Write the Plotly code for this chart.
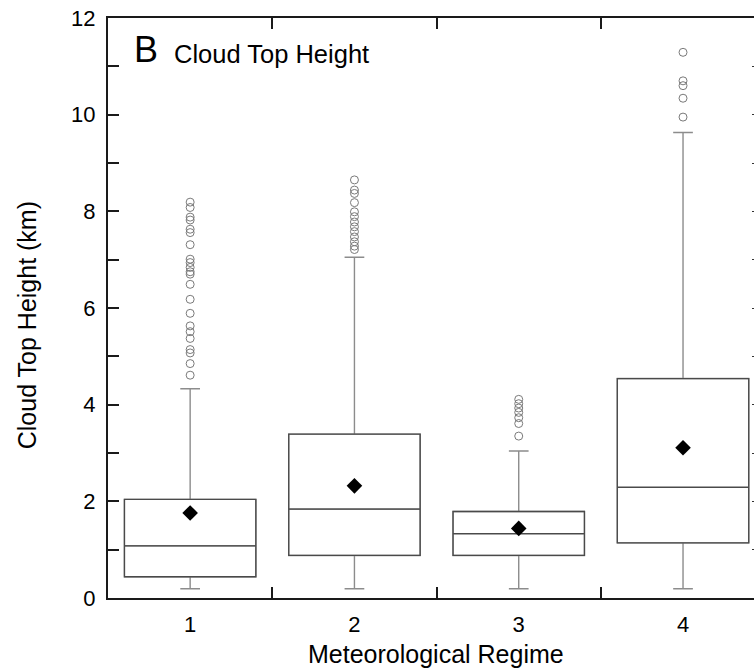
import plotly.graph_objects as go

# Cloud top height (km) statistics per meteorological regime
regimes = [1, 2, 3, 4]
lower_whisker = [0.19, 0.19, 0.19, 0.19]
q1 = [0.44, 0.88, 0.88, 1.14]
median = [1.08, 1.84, 1.33, 2.29]
q3 = [2.04, 3.39, 1.79, 4.54]
upper_whisker = [4.33, 7.05, 3.04, 9.63]
means = [1.76, 2.32, 1.44, 3.11]

outliers_1 = [8.19, 8.08, 7.88, 7.82, 7.63, 7.56, 7.31, 7.01, 6.94, 6.84, 6.75,
              6.70, 6.49, 6.18, 5.89, 5.63, 5.51, 5.37, 5.14, 5.07, 4.85, 4.61]
outliers_2 = [8.65, 8.44, 8.37, 8.18, 7.99, 7.89, 7.78, 7.68, 7.58, 7.47, 7.37,
              7.28, 7.21]
outliers_3 = [4.11, 4.02, 3.93, 3.84, 3.73, 3.61, 3.35]
outliers_4 = [11.29, 10.70, 10.60, 10.34, 9.95]
outliers = [outliers_1, outliers_2, outliers_3, outliers_4]

font_family = "Liberation Sans, Arial, Helvetica, sans-serif"

fig = go.Figure()

# whiskers (lighter grey)
fig.add_trace(go.Box(
    x=regimes, q1=q1, median=median, q3=q3,
    lowerfence=lower_whisker, upperfence=upper_whisker,
    width=0.8, whiskerwidth=0.15, boxpoints=False,
    line=dict(color="#8c8c8c", width=1.4),
    fillcolor="rgba(255,255,255,0)", showlegend=False, hoverinfo="skip",
))
# box outline and median (darker grey)
fig.add_trace(go.Box(
    x=regimes, q1=q1, median=median, q3=q3,
    lowerfence=q1, upperfence=q3,
    width=0.8, whiskerwidth=0, boxpoints=False,
    line=dict(color="#4a4a4a", width=1.3),
    fillcolor="rgba(255,255,255,0)", showlegend=False,
))

# outliers
ox, oy = [], []
for r, vals in zip(regimes, outliers):
    ox += [r] * len(vals)
    oy += vals
fig.add_trace(go.Scatter(
    x=ox, y=oy, mode="markers",
    marker=dict(symbol="circle-open", size=8, color="#7a7a7a", line=dict(width=1)),
    showlegend=False,
))

# means
fig.add_trace(go.Scatter(
    x=regimes, y=means, mode="markers",
    marker=dict(symbol="diamond", size=12, color="black"),
    showlegend=False,
))

# right-hand tick marks
fig.add_trace(go.Scatter(x=[None], y=[None], yaxis="y2", showlegend=False))

axis_color = "#1a1a1a"
fig.update_layout(
    width=754, height=668,
    margin=dict(l=108, r=0, t=18, b=70),
    paper_bgcolor="white", plot_bgcolor="white",
    boxmode="overlay",
    font=dict(family=font_family, color="black"),
    xaxis=dict(
        range=[0.5, 4.432], showgrid=False, zeroline=False,
        showline=True, linecolor=axis_color, linewidth=2, mirror="ticks",
        tickvals=regimes, ticktext=[str(r) for r in regimes],
        ticks="inside", ticklen=0, tickfont=dict(size=22),
        ticklabelstandoff=6,
        minor=dict(tickvals=[1.5, 2.5, 3.5], ticks="inside", ticklen=11,
                   tickwidth=2, tickcolor=axis_color),
    ),
    yaxis=dict(
        range=[0, 12], showgrid=False, zeroline=False,
        showline=True, linecolor=axis_color, linewidth=2, mirror=False,
        tickvals=[0, 2, 4, 6, 8, 10, 12], ticks="inside", ticklen=11,
        tickwidth=2, tickcolor=axis_color, tickfont=dict(size=22),
        ticklabelstandoff=6,
        minor=dict(tickvals=[1, 3, 5, 7, 9, 11], ticks="inside", ticklen=11,
                   tickwidth=2, tickcolor=axis_color),
    ),
    yaxis2=dict(
        range=[0, 12], overlaying="y", side="right", anchor="free", position=1,
        showgrid=False, zeroline=False, showline=False, showticklabels=False,
        tickmode="linear", dtick=1, ticks="inside", ticklen=2, tickwidth=1,
        tickcolor="#333333",
    ),
    annotations=[
        dict(text="B", x=0.0372, y=0.9457, xref="paper", yref="paper",
             xanchor="left", yanchor="middle", showarrow=False,
             font=dict(size=36, family=font_family)),
        dict(text="Cloud Top Height", x=0.0990, y=0.9379, xref="paper", yref="paper",
             xanchor="left", yanchor="middle", showarrow=False,
             font=dict(size=25.5, family=font_family)),
        dict(text="Meteorological Regime", x=0.5085, y=-0.0974, xref="paper",
             yref="paper", xanchor="center", yanchor="middle", showarrow=False,
             font=dict(size=25, family=font_family)),
        dict(text="Cloud Top Height (km)", x=-0.125, y=0.4707, xref="paper",
             yref="paper", xanchor="center", yanchor="middle", textangle=-90,
             showarrow=False, font=dict(size=25, family=font_family)),
    ],
)

fig.write_html("out.html")
